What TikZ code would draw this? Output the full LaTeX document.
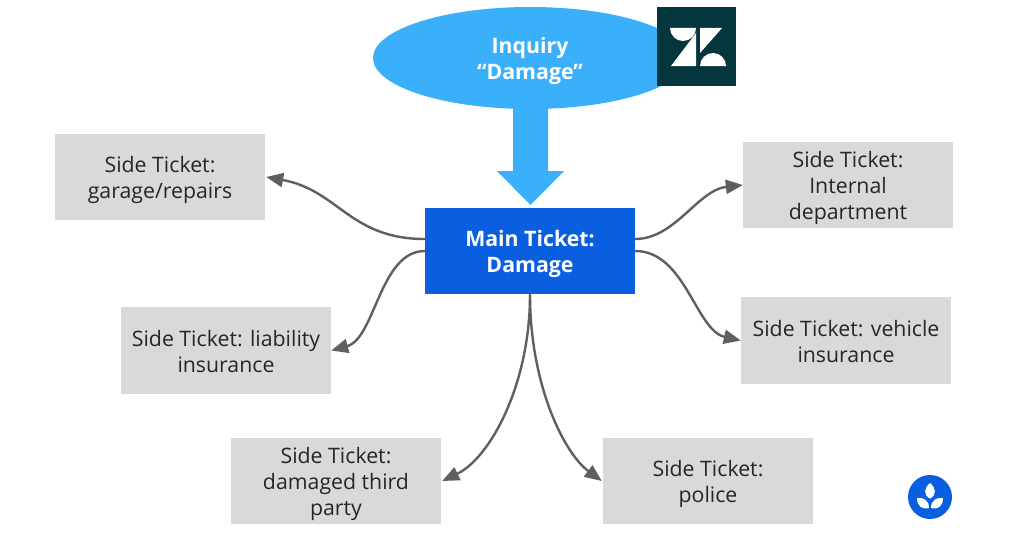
\documentclass[tikz,border=0pt]{standalone}
\usepackage{fontspec}
\setmainfont{Open Sans}
\usetikzlibrary{arrows.meta,shapes.geometric}
\definecolor{sidegrey}{HTML}{D9D9D9}
\definecolor{linkgrey}{HTML}{5F5F5F}
\definecolor{mainblue}{HTML}{0A5FE0}
\definecolor{skyblue}{HTML}{3BB0FA}
\definecolor{zdark}{HTML}{03363D}
\definecolor{inktext}{HTML}{262626}
% extra room above the first line, so that the lines sit slightly below centre
\newcommand{\firstline}{\rule{0pt}{22pt}}
\newcommand{\shortfirstline}{\rule{0pt}{18.5pt}}
\tikzset{
  labeltext/.style={align=center,font=\fontsize{21.3}{26.2}\selectfont},
  sidebox/.style={fill=sidegrey,minimum width=210pt,minimum height=86.5pt,inner sep=0pt,
    labeltext,text=inktext},
  mainbox/.style={fill=mainblue,minimum width=210pt,minimum height=86.5pt,inner sep=0pt,
    labeltext,text=white,font=\fontsize{21.3}{26.2}\selectfont\bfseries},
  linkline/.style={draw=linkgrey,line width=2.4pt,
    -{Triangle[length=17pt,width=14pt,fill=linkgrey]}}
}
\begin{document}
\begin{tikzpicture}[x=1pt,y=-1pt]
\useasboundingbox (0,0) rectangle (1024,535);
\fill[white] (0,0) rectangle (1024,535);

% inquiry ellipse and the wide arrow below it
\node[ellipse,fill=skyblue,minimum width=314pt,minimum height=102pt,inner sep=0pt,
  labeltext,text=white,font=\fontsize{21.3}{26.2}\selectfont\bfseries] (inquiry) at (530,58)
  {\firstline Inquiry\\“Damage”};
\fill[skyblue] (513,104) -- (548,104) -- (548,171) -- (564,171) -- (530.5,205) -- (497,171) -- (513,171) -- cycle;

% Zendesk mark
\node[fill=zdark,minimum size=79pt,inner sep=0pt] (zlogo) at (696.5,46.5) {};
\fill[white] (670,28) arc[start angle=180,end angle=360,radius=13pt] -- cycle;
\fill[white] (696,33) -- (696,66) -- (671,66) -- cycle;
\fill[white] (700,28) -- (722,28) -- (700,53) -- cycle;
\fill[white] (700,66) arc[start angle=180,end angle=0,radius=13pt] -- cycle;

% tickets
\node[mainbox] (main) at (530,251) {\firstline Main Ticket:\\Damage};
\node[sidebox] (garage) at (160,177) {\firstline Side Ticket:\\garage/repairs};
\node[sidebox] (internal) at (848,185) {\firstline Side Ticket:\\Internal\\department};
\node[sidebox] (vehicle) at (846,340.5) {\shortfirstline Side Ticket: vehicle\\insurance};
\node[sidebox] (liability) at (226,350.5) {\shortfirstline Side Ticket: liability\\insurance};
\node[sidebox] (third) at (336,481) {\firstline Side Ticket:\\damaged third\\party};
\node[sidebox] (police) at (708,481) {\firstline Side Ticket:\\police};

% connectors
\draw[linkline] ([yshift=12pt]main.west) .. controls +(-75,0) and +(72,13) .. ([xshift=1pt]garage.east);
\draw[linkline] (main.west) .. controls +(-45,0) and +(44,-12) .. (liability.east);
\draw[linkline] (main.south) .. controls +(0,90) and +(48,-23) .. ([xshift=1pt]third.east);
\draw[linkline] (main.south) .. controls +(0,90) and +(-38,-28) .. ([xshift=-1pt]police.west);
\draw[linkline] ([yshift=12pt]main.east) .. controls +(40,0) and +(-45,5) .. (internal.west);
\draw[linkline] (main.east) .. controls +(50,0) and +(-45,-10) .. (vehicle.west);

% round badge with leaves
\node[circle,fill=mainblue,minimum size=44pt,inner sep=0pt] (badge) at (930,497) {};
\fill[white] (930,483) .. controls (936,488) and (937,495) .. (930,498.5) .. controls (923,495) and (924,488) .. (930,483) -- cycle;
\fill[white] (917,498) .. controls (923,497) and (929,500) .. (929,508) .. controls (922,510) and (917,506) .. (917,498) -- cycle;
\fill[white] (943,498) .. controls (937,497) and (931,500) .. (931,508) .. controls (938,510) and (943,506) .. (943,498) -- cycle;
\end{tikzpicture}
\end{document}
